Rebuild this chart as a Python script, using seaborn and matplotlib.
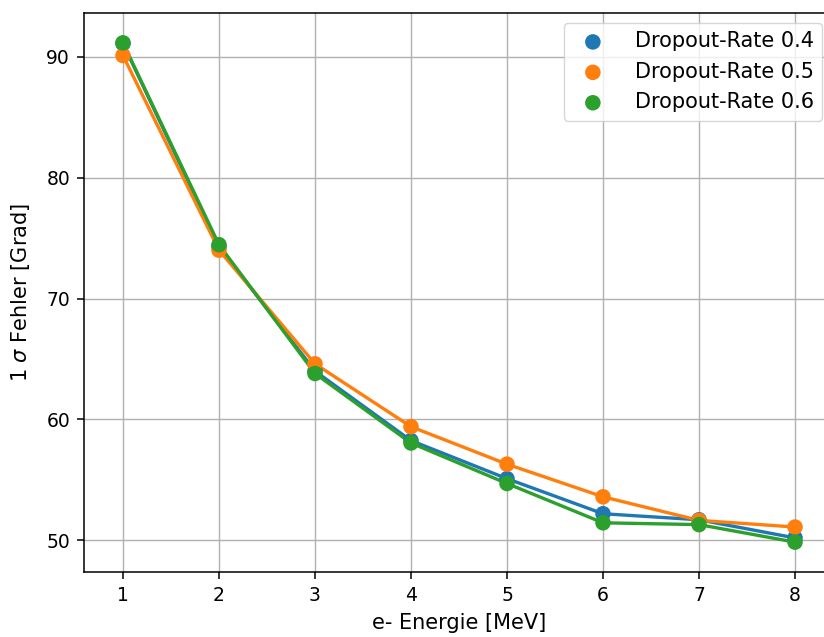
import matplotlib
matplotlib.use("Agg")
import matplotlib.pyplot as plt
import seaborn as sns
import pandas as pd

energy = [1, 2, 3, 4, 5, 6, 7, 8]
rate_04 = [91.1, 74.3, 64.0, 58.25, 55.1, 52.2, 51.7, 50.2]
rate_05 = [90.1, 74.0, 64.6, 59.4, 56.3, 53.6, 51.65, 51.1]
rate_06 = [91.15, 74.45, 63.8, 58.05, 54.7, 51.45, 51.3, 49.85]
labels = ["Dropout-Rate 0.4", "Dropout-Rate 0.5", "Dropout-Rate 0.6"]
colors = ["#1f77b4", "#ff7f0e", "#2ca02c"]

plt.rcParams["font.family"] = ["DejaVu Sans"]
plt.rcParams["font.size"] = 13

fig = plt.figure(figsize=(8.24, 6.37), dpi=100)
ax = fig.add_axes([84 / 824, (637 - 572) / 637, 750 / 824, 559 / 637])

for vals, lab, col in zip([rate_04, rate_05, rate_06], labels, colors):
    df = pd.DataFrame({"x": energy, "y": vals})
    sns.lineplot(data=df, x="x", y="y", ax=ax, color=col, linewidth=2.4, zorder=2)
    sns.scatterplot(data=df, x="x", y="y", ax=ax, color=col, s=125,
                    edgecolor="none", label=lab, zorder=3)

ax.set_xlim(0.594, 8.406)
ax.set_ylim(47.38, 93.62)
ax.set_xticks(energy)
ax.set_yticks([50, 60, 70, 80, 90])
ax.grid(True, color="#b0b0b0", linewidth=1.0)
ax.set_axisbelow(True)
ax.tick_params(labelsize=13.5, length=5, width=1.1, pad=5)
for s in ax.spines.values():
    s.set_linewidth(1.1)
ax.set_xlabel("e- Energie [MeV]", fontsize=15, labelpad=6)
ax.set_ylabel(r"1 $\sigma$ Fehler [Grad]", fontsize=15, labelpad=10)
ax.legend(loc="upper right", fontsize=15, bbox_to_anchor=(0.984, 0.982),
          borderaxespad=0, handletextpad=1.0)

fig.savefig("out.png", dpi=100)
